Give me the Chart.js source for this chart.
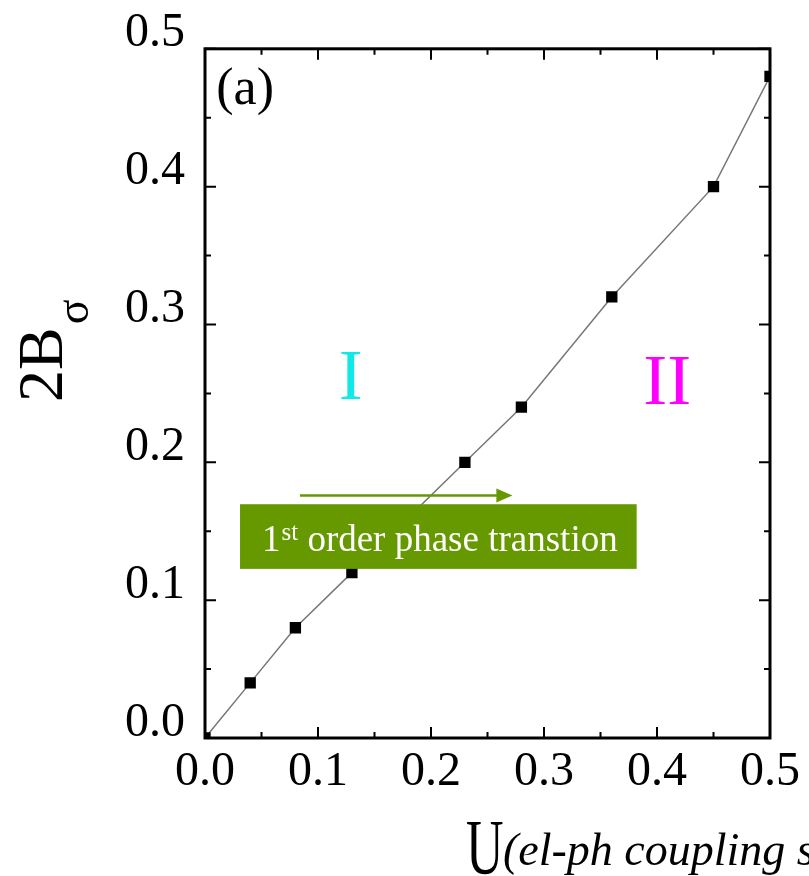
<!DOCTYPE html>
<html>
<head>
<meta charset="utf-8">
<script src="https://cdn.jsdelivr.net/npm/chart.js@4.4.0/dist/chart.umd.min.js"></script>
<style>
  body { margin: 0; background: #fff; }
</style>
</head>
<body>
<canvas id="myChart" width="809" height="876"></canvas>
<script>
// data
const uValues = [0, 0.04, 0.08, 0.13, 0.23, 0.28, 0.36, 0.45, 0.5]
const bValues = [0, 0.04, 0.08, 0.12, 0.20, 0.24, 0.32, 0.40, 0.48]
const tickLabels = ['0.0', '0.1', '0.2', '0.3', '0.4', '0.5']
const phaseLabels = ['I', 'II']
const yTitle = ['2B', 'σ']
const xTitle = ['U', '(el-ph coupling strength)']
const boxLabel = ['1', 'st', ' order phase transtion']

const serif = "'Liberation Serif', 'Times New Roman', serif"
const green = '#669900'

var points = []
for (var i = 0; i < uValues.length; i++) {
  points.push({ x: uValues[i], y: bValues[i] })
}

// frame, inward ticks and all the annotations
const decor = {
  id: 'decor',
  afterDraw(chart) {
    const ctx = chart.ctx
    const xs = chart.scales.x
    const ys = chart.scales.y
    const a = chart.chartArea
    ctx.save()
    ctx.strokeStyle = '#000'
    ctx.lineWidth = 2
    for (var v = 0; v <= 10; v++) {
      const val = v * 0.05
      const len = v % 2 == 0 ? 11 : 6
      const px = xs.getPixelForValue(val)
      const py = ys.getPixelForValue(val)
      ctx.beginPath()
      ctx.moveTo(px, a.bottom); ctx.lineTo(px, a.bottom - len)
      ctx.moveTo(px, a.top); ctx.lineTo(px, a.top + len)
      ctx.moveTo(a.left, py); ctx.lineTo(a.left + len, py)
      ctx.moveTo(a.right, py); ctx.lineTo(a.right - len, py)
      ctx.stroke()
    }
    ctx.lineWidth = 3
    ctx.strokeRect(a.left, a.top, a.right - a.left, a.bottom - a.top)

    ctx.fillStyle = '#000'
    ctx.textBaseline = 'alphabetic'
    ctx.textAlign = 'left'
    ctx.font = '52px ' + serif
    ctx.fillText('(a)', xs.getPixelForValue(0.01), ys.getPixelForValue(0.46))

    ctx.textAlign = 'center'
    ctx.font = '72px ' + serif
    ctx.fillStyle = '#11e8e8'
    ctx.fillText(phaseLabels[0], xs.getPixelForValue(0.129), ys.getPixelForValue(0.246))
    ctx.fillStyle = '#ff00ff'
    ctx.fillText(phaseLabels[1], xs.getPixelForValue(0.409), ys.getPixelForValue(0.242))

    // arrow
    const ay = ys.getPixelForValue(0.176)
    const ax0 = xs.getPixelForValue(0.084)
    const ax1 = xs.getPixelForValue(0.272)
    ctx.strokeStyle = green
    ctx.fillStyle = green
    ctx.lineWidth = 2.5
    ctx.beginPath(); ctx.moveTo(ax0, ay); ctx.lineTo(ax1 - 14, ay); ctx.stroke()
    ctx.beginPath(); ctx.moveTo(ax1, ay); ctx.lineTo(ax1 - 16, ay - 7); ctx.lineTo(ax1 - 16, ay + 7); ctx.closePath(); ctx.fill()

    // green box
    const bx0 = xs.getPixelForValue(0.031), bx1 = xs.getPixelForValue(0.382)
    const by0 = ys.getPixelForValue(0.1696), by1 = ys.getPixelForValue(0.1227)
    ctx.fillRect(bx0, by0, bx1 - bx0, by1 - by0)
    ctx.fillStyle = '#fff'
    ctx.textAlign = 'left'
    var tx = xs.getPixelForValue(0.0504)
    const ty = ys.getPixelForValue(0.1356)
    ctx.font = '37px ' + serif
    ctx.fillText(boxLabel[0], tx, ty)
    tx += ctx.measureText(boxLabel[0]).width + 1
    ctx.font = '25px ' + serif
    ctx.fillText(boxLabel[1], tx, ty - 11)
    tx += ctx.measureText(boxLabel[1]).width
    ctx.font = '37px ' + serif
    ctx.fillText(boxLabel[2], tx, ty)

    // y title, rotated, with subscript
    ctx.fillStyle = '#000'
    ctx.save()
    ctx.translate(62, 402)
    ctx.rotate(-Math.PI / 2)
    ctx.font = '64px ' + serif
    ctx.fillText(yTitle[0], 0, 0)
    const w = ctx.measureText(yTitle[0]).width
    ctx.font = '46px ' + serif
    ctx.fillText(yTitle[1], w + 3, 26)
    ctx.restore()

    // x title: tall narrow U, then italic text running off the edge
    ctx.save()
    ctx.translate(466, 873)
    ctx.scale(1, 1.5)
    ctx.font = '52px ' + serif
    ctx.fillText(xTitle[0], 0, 0)
    ctx.restore()
    ctx.font = 'italic 46px ' + serif
    ctx.fillText(xTitle[1], 503, 865)
    ctx.restore()
  }
}

const ctx = document.getElementById('myChart')

new Chart(ctx, {
  type: 'scatter',
  data: {
    datasets: [{
      data: points,
      showLine: true,
      borderColor: '#777',
      borderWidth: 1.5,
      pointStyle: 'rect',
      pointRadius: 8,
      pointBackgroundColor: '#000',
      pointBorderColor: '#000',
      pointBorderWidth: 0
    }]
  },
  options: {
    responsive: false,
    animation: false,
    devicePixelRatio: 1,
    layout: { padding: { left: 0, right: 39, top: 45, bottom: 0 } },
    plugins: { legend: { display: false }, tooltip: { enabled: false } },
    scales: {
      x: {
        type: 'linear',
        min: 0,
        max: 0.5,
        grid: { display: false, drawTicks: false },
        border: { display: false },
        ticks: {
          stepSize: 0.1,
          padding: 6,
          maxRotation: 0,
          color: '#000',
          font: { family: serif, size: 48 },
          callback: (v, i) => tickLabels[i]
        },
        afterFit: s => { s.height = 138 }
      },
      y: {
        type: 'linear',
        min: 0,
        max: 0.5,
        grid: { display: false, drawTicks: false },
        border: { display: false },
        ticks: {
          stepSize: 0.1,
          padding: 20,
          labelOffset: -15,
          color: '#000',
          font: { family: serif, size: 48 },
          callback: (v, i) => tickLabels[i]
        },
        afterFit: s => { s.width = 205 }
      }
    }
  },
  plugins: [decor]
})
</script>
</body>
</html>
